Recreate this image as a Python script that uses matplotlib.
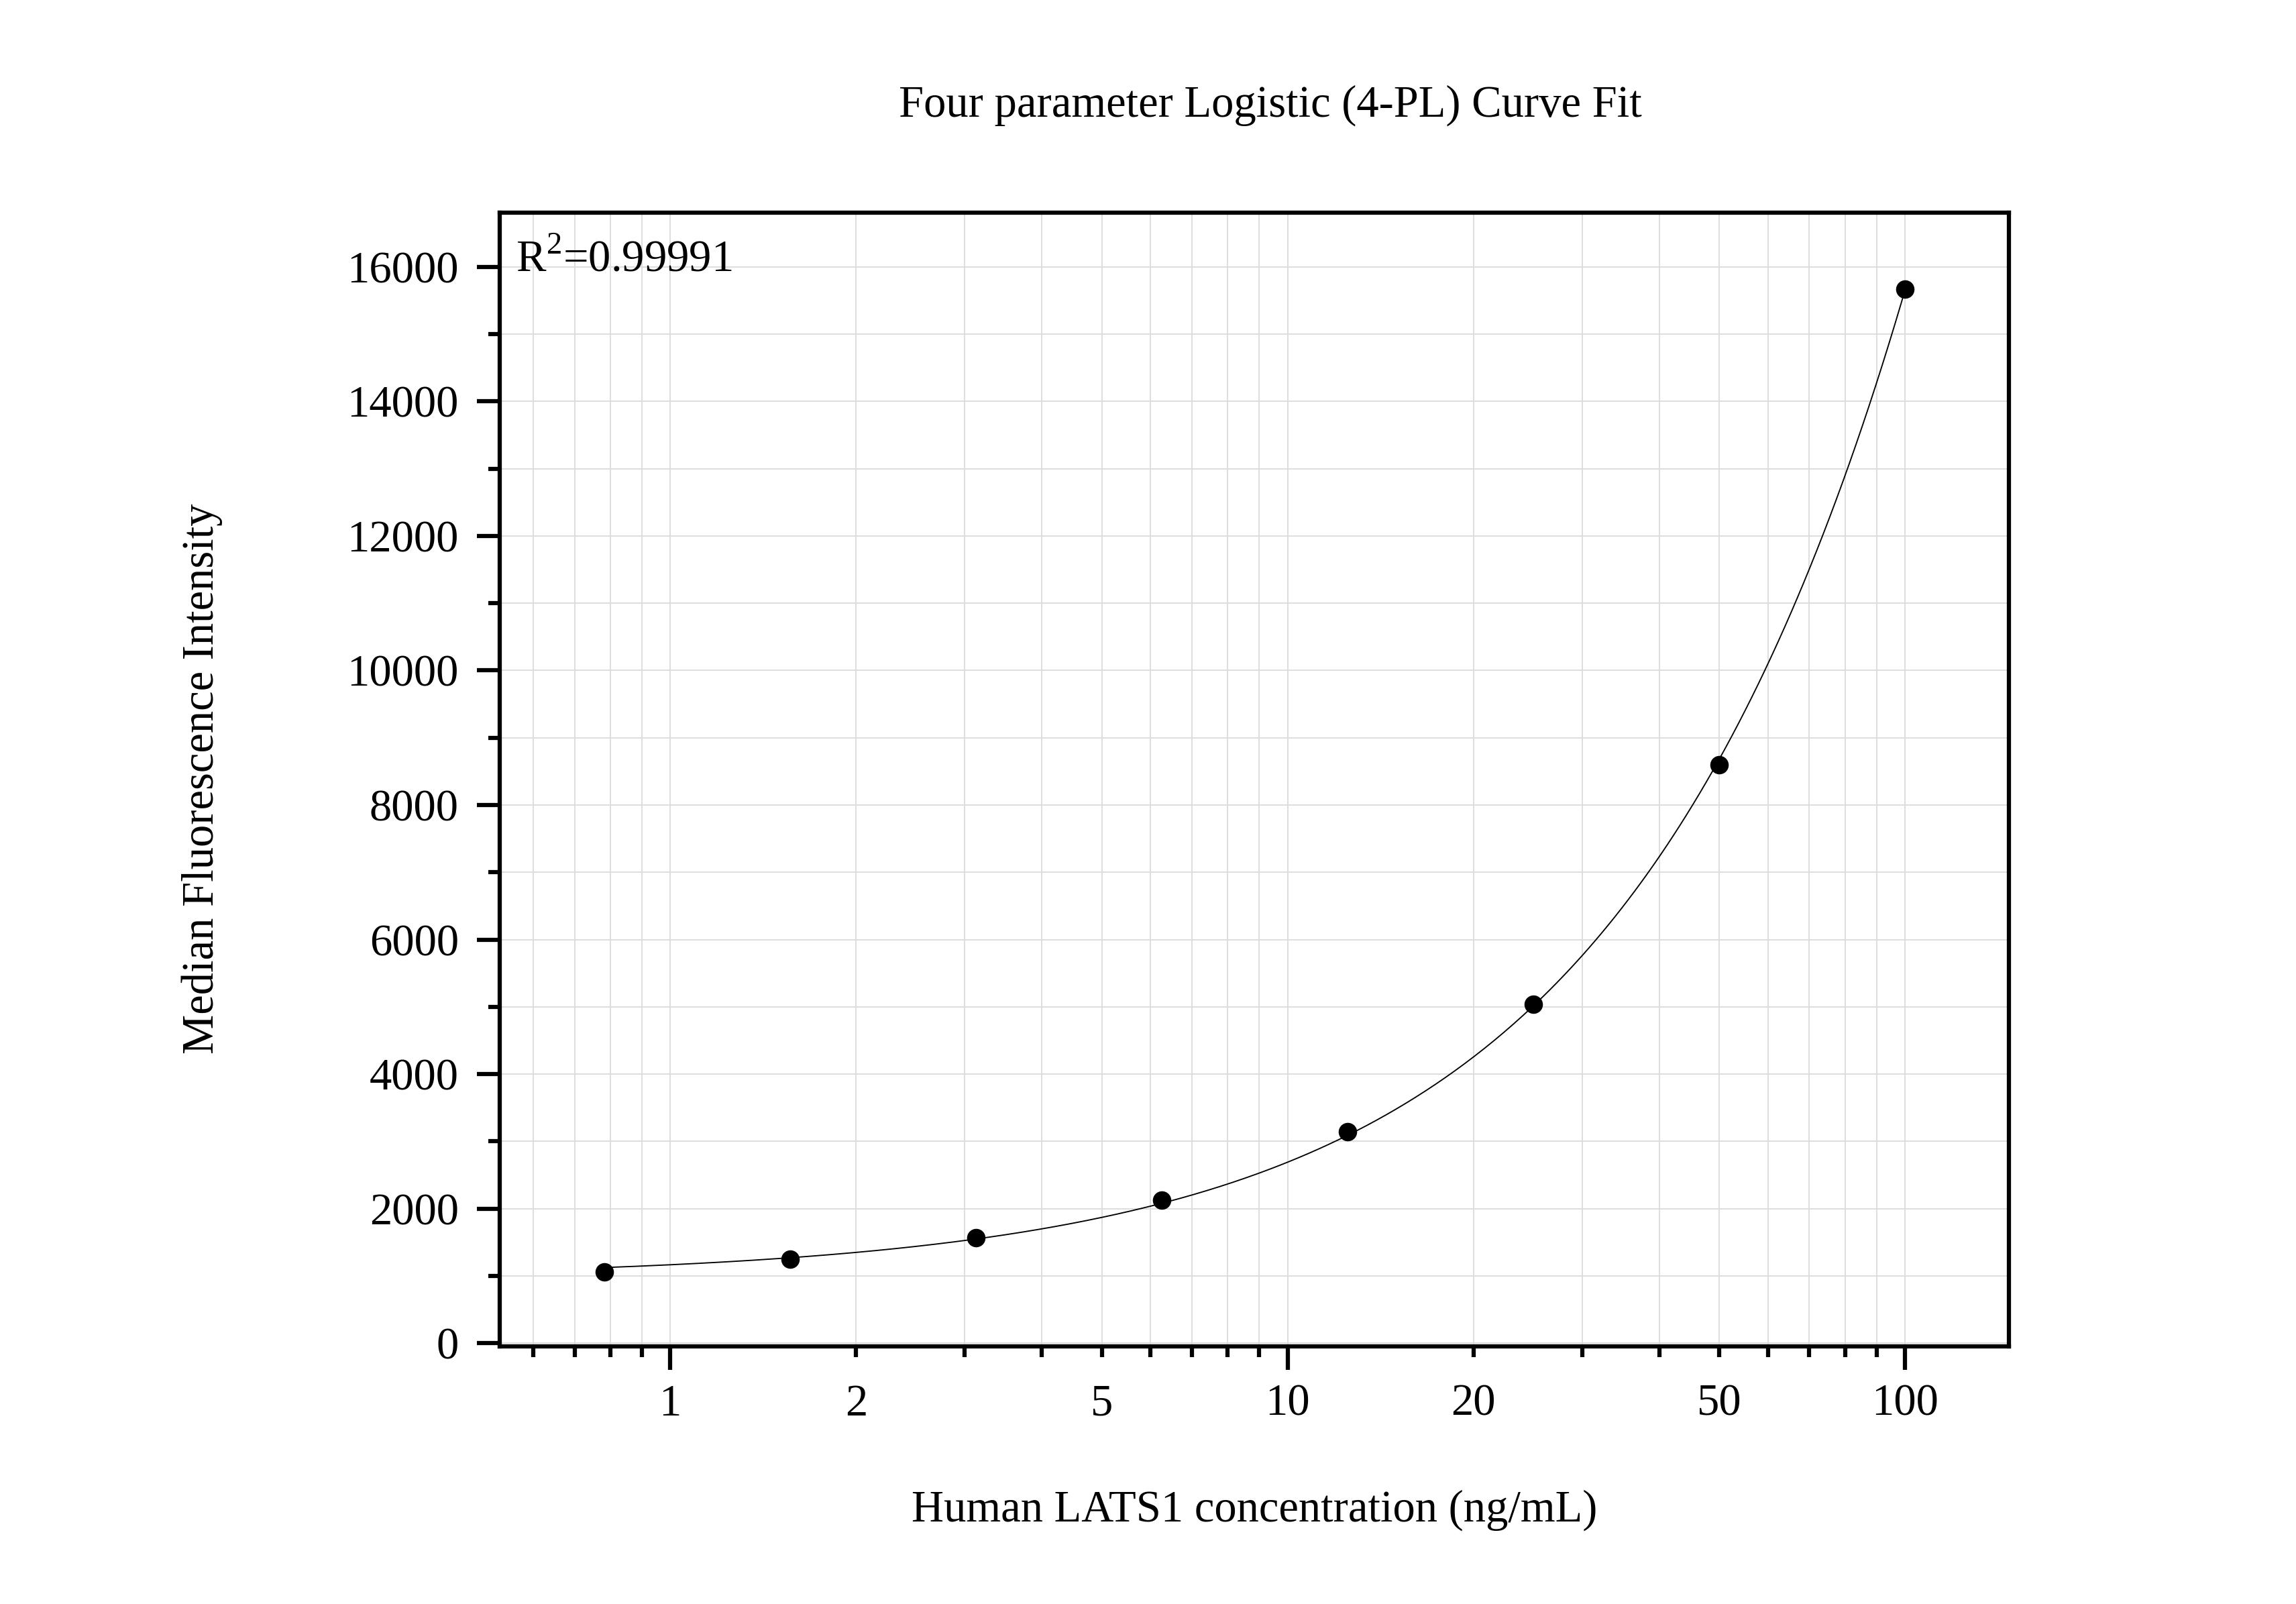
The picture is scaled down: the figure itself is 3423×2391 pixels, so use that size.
import numpy as np
import matplotlib
matplotlib.use('Agg')
import matplotlib.pyplot as plt
from matplotlib.ticker import FixedLocator, LogLocator, MultipleLocator, FuncFormatter

# standard curve values
conc = np.array([0.78125, 1.5625, 3.125, 6.25, 12.5, 25, 50, 100])
mfi = np.array([1060, 1246, 1568, 2127, 3141, 5041, 8597, 15671])

title = 'Four parameter Logistic (4-PL) Curve Fit'
x_label = 'Human LATS1 concentration (ng/mL)'
y_label = 'Median Fluorescence Intensity'
r2_label = 'R$^{2}$=0.99991'

x_major = [1, 10, 100]
x_minor_labels = [2, 5, 20, 50]

plt.rcParams['font.family'] = ['Liberation Serif', 'DejaVu Serif']
plt.rcParams['mathtext.fontset'] = 'custom'
plt.rcParams['mathtext.rm'] = 'Liberation Serif'


def fit_4pl(x, y):
    """
    Fits y = d + (a - d) / (1 + (x/c)^b).
    For each (b, c) the model is linear in a and d, so solve those directly
    and grid search the other two.
    """
    lx = np.log10(x)
    lc = np.arange(0.0, 5.0, 0.005)[:, None]
    best = None
    for b in np.arange(0.5, 4.0, 0.01):
        g = 1.0 / (1.0 + 10 ** (b * (lx[None, :] - lc)))
        h = 1.0 - g
        sgg = (g * g).sum(1)
        shh = (h * h).sum(1)
        sgh = (g * h).sum(1)
        sgy = (g * y).sum(1)
        shy = (h * y).sum(1)
        det = sgg * shh - sgh ** 2
        a = (sgy * shh - shy * sgh) / det
        d = (sgg * shy - sgh * sgy) / det
        res = ((a[:, None] * g + d[:, None] * h - y) ** 2).sum(1)
        i = np.nanargmin(res)
        if best is None or res[i] < best[0]:
            best = (res[i], a[i], b, 10 ** lc[i, 0], d[i])
    return best[1:]


def four_pl(x, a, b, c, d):
    return d + (a - d) / (1.0 + (x / c) ** b)


a, b, c, d = fit_4pl(conc, mfi.astype(float))
x_fit = np.logspace(np.log10(conc[0]), np.log10(conc[-1]), 400)
y_fit = four_pl(x_fit, a, b, c, d)

W, H = 3423, 2391
fig = plt.figure(figsize=(W / 300, H / 300), dpi=300)
ax = fig.add_axes([745 / W, 1 - 2006.7 / H, 2250 / W, 1690.2 / H])

ax.set_xscale('log')
ax.set_xlim(0.5293, 147.4)
ax.set_ylim(-44, 16810)

ax.grid(True, which='both', color='#dcdcdc', linewidth=0.45, zorder=0)
ax.set_axisbelow(True)

ax.plot(x_fit, y_fit, color='black', linewidth=0.45, zorder=3)
ax.plot(conc, mfi, 'o', color='black', markersize=5.6, zorder=4)

# ticks
ax.xaxis.set_major_locator(FixedLocator(x_major))
ax.xaxis.set_major_formatter(FuncFormatter(lambda v, p: f'{v:g}'))
ax.xaxis.set_minor_locator(LogLocator(base=10, subs=np.arange(2, 10)))
ax.xaxis.set_minor_formatter(FuncFormatter(
    lambda v, p: f'{v:g}' if any(abs(v - m) < 1e-6 for m in x_minor_labels) else ''))
ax.yaxis.set_major_locator(MultipleLocator(2000))
ax.yaxis.set_minor_locator(MultipleLocator(1000))

ax.tick_params(which='both', direction='out', top=False, right=False,
               width=1.5, labelsize=16, color='black')
ax.tick_params(axis='x', which='major', length=8.4, pad=5)
ax.tick_params(axis='x', which='minor', length=3.8, pad=9.6)
ax.tick_params(axis='y', which='major', length=8.2, pad=6.5)
ax.tick_params(axis='y', which='minor', length=4.0)

for sp in ax.spines.values():
    sp.set_linewidth(1.5)
    sp.set_color('black')

ax.text(0.0105, 0.948, r2_label, transform=ax.transAxes, fontsize=16,
        ha='left', va='baseline')

fig.text(1894 / W, 1 - 157 / H, title, fontsize=16, ha='center', va='center')
fig.text(1870 / W, 1 - 2251 / H, x_label, fontsize=16, ha='center', va='center')
fig.text(301 / W, 1 - 1161 / H, y_label, fontsize=16, ha='center', va='center',
         rotation=90)

fig.savefig('out.png', dpi=300)
